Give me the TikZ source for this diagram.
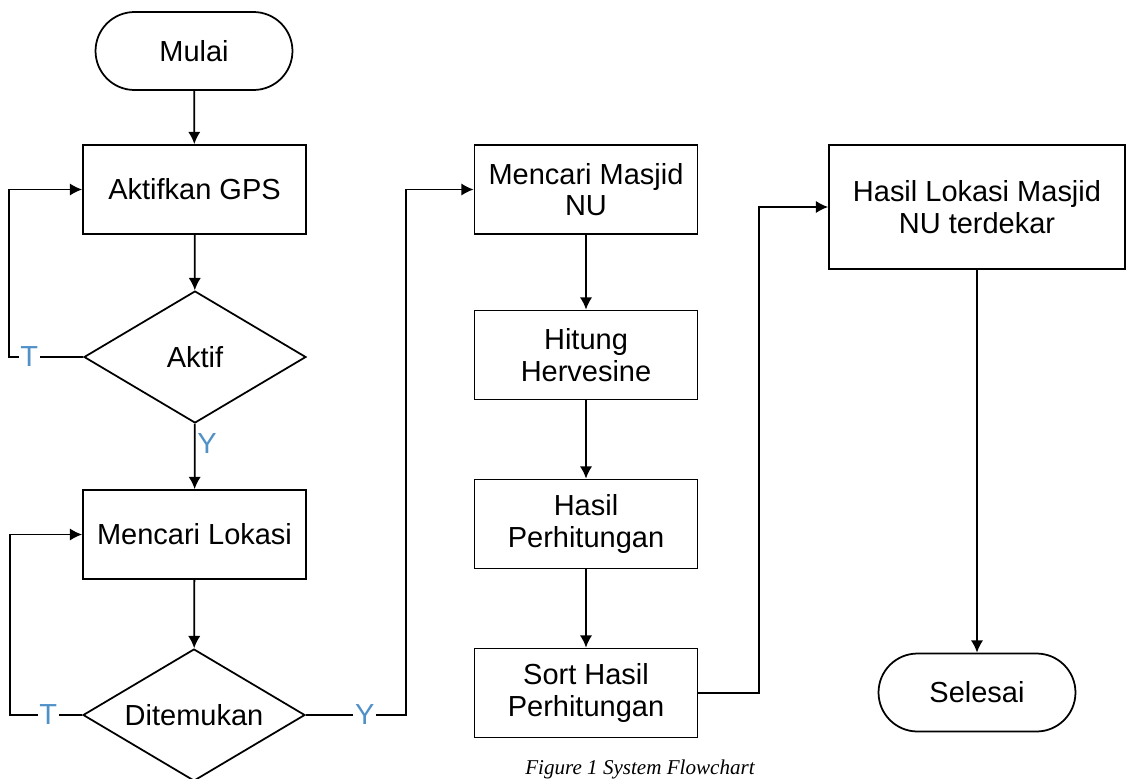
\documentclass[tikz,border=0pt]{standalone}
\usepackage{fontspec}
\setmainfont{Liberation Sans}
\newfontfamily\capfont{Liberation Serif}
\usepackage{tikz}
\usetikzlibrary{arrows.meta,shapes.geometric}
\definecolor{biru}{RGB}{80,145,200}

\begin{document}
\begin{tikzpicture}[x=0.02cm,y=-0.02cm,line width=1pt,
    font=\fontsize{16.5}{18}\selectfont,
    proses/.style={draw,rectangle,minimum width=4.46cm,minimum height=1.78cm,align=center,inner sep=2pt},
    terminal/.style={draw,rectangle,rounded corners=0.78cm,minimum width=3.94cm,minimum height=1.56cm},
    keputusan/.style={draw,diamond,aspect=1.68,minimum width=4.44cm,minimum height=2.64cm,inner sep=0pt},
    ket/.style={text=biru,fill=white,inner sep=1pt},
    panah/.style={-{Latex[length=7pt,width=7pt]}}]
                      \useasboundingbox(0,0)rectangle(1126,778);
                      % kolom kiri
                      \node[terminal](mulai)at(194,51){Mulai};
                      \node[proses](gps)at(194.5,189.5){Aktifkan GPS};
                      \node[keputusan](aktif)at(195,357){Aktif};
                      \node[proses](lokasi)at(194.5,534.5){Mencari Lokasi};
                      \node[keputusan](temu)at(194,715){Ditemukan};
                      % kolom tengah
                      \node[proses](masjid)at(586,189.5){Mencari Masjid\\NU};
                      \node[proses](hitung)at(586,355){Hitung\\Hervesine};
                      \node[proses](hasil)at(586,524){Hasil\\Perhitungan};
                      \node[proses](sort)at(586,693){Sort Hasil\\Perhitungan};
                      % kolom kanan
                      \node[proses,minimum width=5.92cm,minimum height=2.48cm](lokasinu)at(977,207){Hasil Lokasi Masjid\\NU terdekar};
                      \node[terminal](selesai)at(977,692.5){Selesai};
                      \node[anchor=north,inner sep=1pt,font=\capfont\itshape\fontsize{12}{14}\selectfont](judul)at(640,757){Figure 1 System Flowchart};
                      \draw[panah](mulai)--(gps);
                      \draw[panah](gps)--(aktif);
                      \draw[panah](aktif)--node[ket,right,fill=none,pos=0.3]{Y}(lokasi);
                      \draw[panah](aktif.west)--node[ket,pos=0.73]{T}++(-74,0)|-(gps.west);
                      \draw[panah](lokasi)--(temu);
                      \draw[panah](temu.west)--node[ket,pos=0.47]{T}++(-72,0)|-(lokasi.west);
                      \draw[panah](temu.east)--node[ket,pos=0.59]{Y}++(100,0)|-(masjid.west);
                      \draw[panah](masjid)--(hitung);
                      \draw[panah](hitung)--(hasil);
                      \draw[panah](hasil)--(sort);
                      \draw[panah](sort.east)--++(61,0)|-(lokasinu.west);
                      \draw[panah](lokasinu)--(selesai);
                  \end{tikzpicture}
\end{document}
